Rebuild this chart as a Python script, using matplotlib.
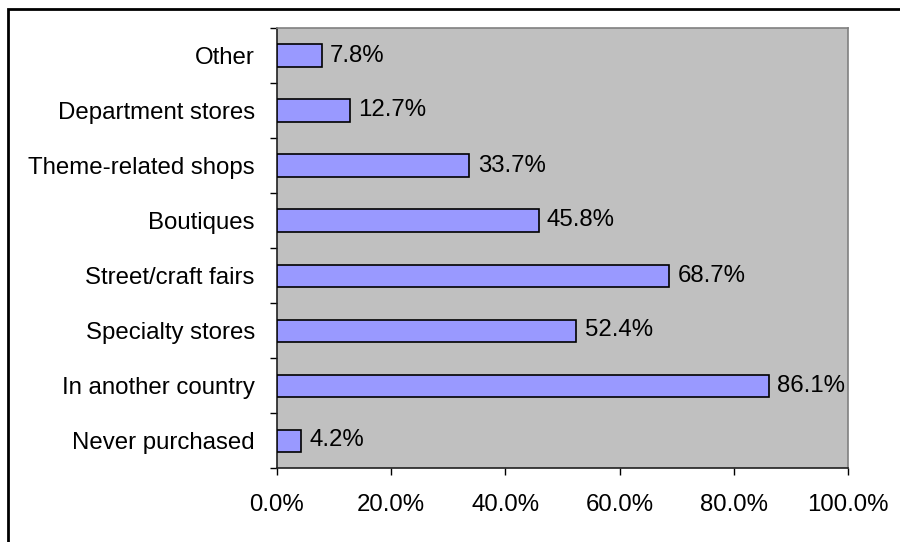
import matplotlib
matplotlib.use("Agg")
import matplotlib.pyplot as plt
from matplotlib.patches import Rectangle
from matplotlib.ticker import FixedLocator, FuncFormatter

categories = [
    "Never purchased",
    "In another country",
    "Specialty stores",
    "Street/craft fairs",
    "Boutiques",
    "Theme-related shops",
    "Department stores",
    "Other",
]
shares = [4.2, 86.1, 52.4, 68.7, 45.8, 33.7, 12.7, 7.8]
x_ticks = [0, 20, 40, 60, 80, 100]

plt.rcParams["font.family"] = ["Liberation Sans", "DejaVu Sans"]
FS = 17.3

fig = plt.figure(figsize=(9.0, 5.42), dpi=100)
ax = fig.add_axes([277 / 900, 1 - 468 / 542, (848 - 277) / 900, (468 - 28) / 542])

# chart frame (top and left edges of a border box)
fig.patches.append(Rectangle((8 / 900, -0.1), 1.2, 1 - 9 / 542 + 0.1,
                             transform=fig.transFigure, fill=False,
                             edgecolor="black", linewidth=2.0, zorder=10))

ax.set_facecolor("#C0C0C0")
pos = list(range(len(categories)))
bars = ax.barh(pos, shares, height=0.4, color="#9999FF",
               edgecolor="black", linewidth=1.2, zorder=3)
ax.bar_label(bars, labels=[f"{v:.1f}%" for v in shares], padding=6, fontsize=FS)

ax.set_xlim(0, 100)
ax.set_ylim(-0.5, len(categories) - 0.5)

ax.xaxis.set_major_locator(FixedLocator(x_ticks))
ax.xaxis.set_major_formatter(FuncFormatter(lambda v, p: f"{v:.1f}%"))
ax.tick_params(axis="x", direction="out", length=5, width=1, pad=14, labelsize=FS)

ax.set_yticks(pos)
ax.set_yticklabels(categories)
ax.yaxis.set_minor_locator(FixedLocator([p - 0.5 for p in range(len(categories) + 1)]))
ax.tick_params(axis="y", which="major", length=0, pad=16, labelsize=FS)
ax.tick_params(axis="y", which="minor", direction="out", length=5, width=1)

for side in ("top", "right"):
    ax.spines[side].set_color("#808080")
    ax.spines[side].set_linewidth(1.2)
for side in ("left", "bottom"):
    ax.spines[side].set_color("#202020")
    ax.spines[side].set_linewidth(1.2)

fig.savefig("out.png", dpi=100, facecolor="white")
